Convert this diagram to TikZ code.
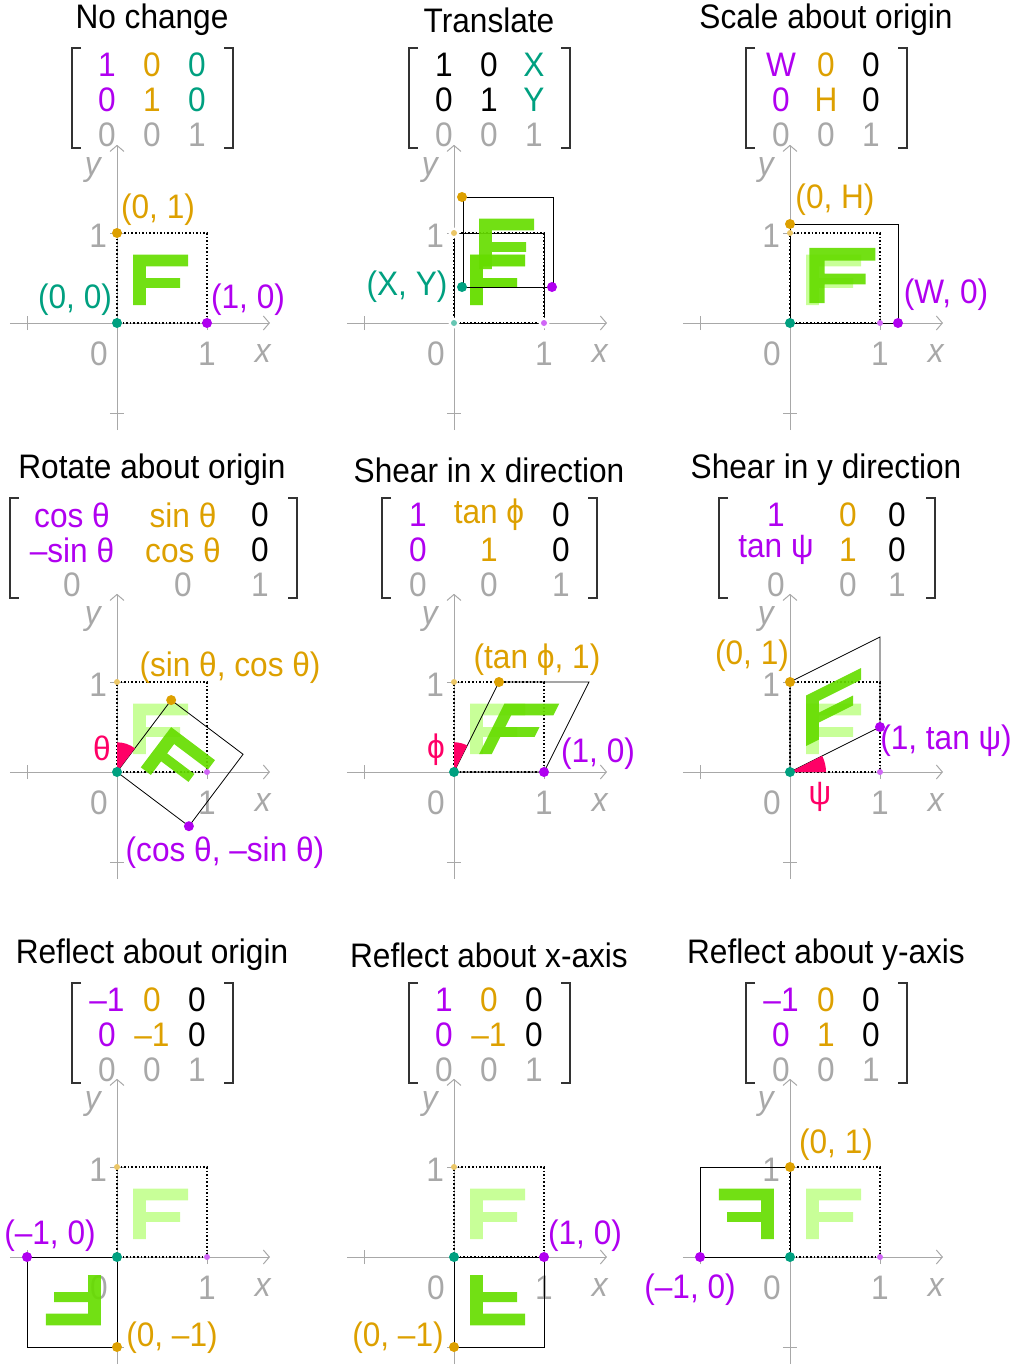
\documentclass[tikz,border=0pt]{standalone}
\usepackage{fontspec}
\setmainfont{Liberation Sans}[FakeStretch=0.93]
\usetikzlibrary{arrows.meta}
\definecolor{cP}{HTML}{B000F0}
\definecolor{cO}{HTML}{DDA000}
\definecolor{cT}{HTML}{00A080}
\definecolor{cG}{HTML}{A8A8A8}
\definecolor{cF}{HTML}{66DD00}
\definecolor{cL}{HTML}{C8FF98}
\definecolor{cK}{HTML}{FF0066}
\newcounter{nc}
\tikzset{
  txt/.style={font=\fontsize{34}{36}\selectfont,inner sep=0pt,anchor=center},
  axis/.style={cG,line width=1pt},
  brk/.style={line width=1.6pt,black!80},
}
\newcommand\ent[4]{\stepcounter{nc}\node[txt,text=#3] (m\arabic{nc}) at (#1,#2) {#4};}
\newcommand\brak[4]{\draw[brk] (#1+9,#3)--(#1,#3)--(#1,#4)--(#1+9,#4);\draw[brk] (#2-9,#3)--(#2,#3)--(#2,#4)--(#2-9,#4);}
\def\Fshape{(0.18,0.2) rectangle (0.32,0.76) (0.18,0.63) rectangle (0.79,0.76) (0.18,0.39) rectangle (0.7,0.5)}
% #1 ox #2 oy #3 a #4 b #5 c #6 d #7 light(1/0) #8 extra
\newcommand\pnl[8]{%
\begin{scope}[shift={(#1,#2)},x=90pt,y=90pt]
  \draw[axis,-{Straight Barb[length=6pt,width=14pt]}] (-1.19,0) -- (1.7,0);
  \draw[axis,-{Straight Barb[length=6pt,width=14pt]}] (0,-1.19) -- (0,1.98);
  \draw[axis] (-1,-0.08)--(-1,0.08) (1,-0.08)--(1,0.08) (-0.08,1)--(0.08,1) (-0.08,-1)--(0.08,-1);
  \node[txt,text=cG] (a0\arabic{nc}) at (-0.2,-0.34) {0};
  \node[txt,text=cG] (a1\arabic{nc}) at (1,-0.34) {1};
  \node[txt,text=cG] (ax\arabic{nc}) at (1.62,-0.34) {\itshape x};
  \node[txt,text=cG] (ay\arabic{nc}) at (-0.27,1.7) {\itshape y};
  \node[txt,text=cG] (ay1\arabic{nc}) at (-0.21,0.97) {1};
  \ifnum#7=1 \fill[cL] \Fshape; \fi
  \draw[line width=1.6pt,dotted] (0,0) rectangle (1,1);
  \begin{scope}[cm={#3,#4,#5,#6,(0,0)}]
    \fill[cF,opacity=0.92] \Fshape;
    \ifnum#7=1 \draw[line width=0.8pt] (0,0) rectangle (1,1); \fi
  \end{scope}
  #8
  \ifnum#7=1
  \fill[cT!60] (0,0) circle (3pt); \fill[cP!60] (1,0) circle (3pt); \fill[cO!60] (0,1) circle (3pt);
  \fi
  \fill[cT] (0,0) circle (5pt);
  \fill[cP] (#3,#4) circle (5pt);
  \fill[cO] (#5,#6) circle (5pt);
\end{scope}}
\begin{document}
\begin{tikzpicture}[x=1pt,y=-1pt]
\useasboundingbox (0,0) rectangle (1024,1366);
% titles
\node[txt] (t1) at (152,20) {No change};
\node[txt] (t2) at (489,20) {Translate};
\node[txt] (t3) at (826,20) {Scale about origin};
\node[txt] (t4) at (152,470) {Rotate about origin};
\node[txt] (t5) at (489,470) {Shear in x direction};
\node[txt] (t6) at (826,470) {Shear in y direction};
\node[txt] (t7) at (152,955) {Reflect about origin};
\node[txt] (t8) at (489,955) {Reflect about x-axis};
\node[txt] (t9) at (826,955) {Reflect about y-axis};
% matrices row 1
\brak{72}{233}{48}{148}
\ent{107}{65}{cP}{1}\ent{152}{65}{cO}{0}\ent{197}{65}{cT}{0}
\ent{107}{100}{cP}{0}\ent{152}{100}{cO}{1}\ent{197}{100}{cT}{0}
\ent{107}{135}{cG}{0}\ent{152}{135}{cG}{0}\ent{197}{135}{cG}{1}
\brak{409}{570}{48}{148}
\ent{444}{65}{black}{1}\ent{489}{65}{black}{0}\ent{534}{65}{cT}{X}
\ent{444}{100}{black}{0}\ent{489}{100}{black}{1}\ent{534}{100}{cT}{Y}
\ent{444}{135}{cG}{0}\ent{489}{135}{cG}{0}\ent{534}{135}{cG}{1}
\brak{746}{907}{48}{148}
\ent{781}{65}{cP}{W}\ent{826}{65}{cO}{0}\ent{871}{65}{black}{0}
\ent{781}{100}{cP}{0}\ent{826}{100}{cO}{H}\ent{871}{100}{black}{0}
\ent{781}{135}{cG}{0}\ent{826}{135}{cG}{0}\ent{871}{135}{cG}{1}
% row 2
\brak{10}{297}{498}{598}
\ent{72}{515}{cP}{cos θ}\ent{183}{515}{cO}{sin θ}\ent{260}{515}{black}{0}
\ent{72}{550}{cP}{–sin θ}\ent{183}{550}{cO}{cos θ}\ent{260}{550}{black}{0}
\ent{72}{585}{cG}{0}\ent{183}{585}{cG}{0}\ent{260}{585}{cG}{1}
\brak{382}{597}{498}{598}
\ent{418}{515}{cP}{1}\ent{489}{515}{cO}{tan ϕ}\ent{561}{515}{black}{0}
\ent{418}{550}{cP}{0}\ent{489}{550}{cO}{1}\ent{561}{550}{black}{0}
\ent{418}{585}{cG}{0}\ent{489}{585}{cG}{0}\ent{561}{585}{cG}{1}
\brak{719}{935}{498}{598}
\ent{776}{515}{cP}{1}\ent{848}{515}{cO}{0}\ent{897}{515}{black}{0}
\ent{776}{550}{cP}{tan ψ}\ent{848}{550}{cO}{1}\ent{897}{550}{black}{0}
\ent{776}{585}{cG}{0}\ent{848}{585}{cG}{0}\ent{897}{585}{cG}{1}
% row 3
\brak{72}{233}{983}{1083}
\ent{107}{1000}{cP}{–1}\ent{152}{1000}{cO}{0}\ent{197}{1000}{black}{0}
\ent{107}{1035}{cP}{0}\ent{152}{1035}{cO}{–1}\ent{197}{1035}{black}{0}
\ent{107}{1070}{cG}{0}\ent{152}{1070}{cG}{0}\ent{197}{1070}{cG}{1}
\brak{409}{570}{983}{1083}
\ent{444}{1000}{cP}{1}\ent{489}{1000}{cO}{0}\ent{534}{1000}{black}{0}
\ent{444}{1035}{cP}{0}\ent{489}{1035}{cO}{–1}\ent{534}{1035}{black}{0}
\ent{444}{1070}{cG}{0}\ent{489}{1070}{cG}{0}\ent{534}{1070}{cG}{1}
\brak{746}{907}{983}{1083}
\ent{781}{1000}{cP}{–1}\ent{826}{1000}{cO}{0}\ent{871}{1000}{black}{0}
\ent{781}{1035}{cP}{0}\ent{826}{1035}{cO}{1}\ent{871}{1035}{black}{0}
\ent{781}{1070}{cG}{0}\ent{826}{1070}{cG}{0}\ent{871}{1070}{cG}{1}
% panels
\pnl{117}{323}{1}{0}{0}{1}{0}{}
\begin{scope}[shift={(454,323)},x=90pt,y=90pt]
\end{scope}
\pnl{454}{323}{1}{0}{0}{1}{1}{%
  \draw[line width=0.8pt] (0.1,0.4) rectangle (1.1,1.4);
  \begin{scope}[shift={(0.1,0.4)}]\fill[cF,opacity=0.92] \Fshape;\end{scope}}
\pnl{790}{323}{1.2}{0}{0}{1.1}{1}{}
\pnl{117}{772}{0.799}{-0.602}{0.602}{0.799}{1}{%
  \fill[cK] (0,0) -- (90:0.33) arc[start angle=90,end angle=53,radius=0.33] -- cycle;}
\pnl{454}{772}{1}{0}{0.5}{1}{1}{%
  \fill[cK] (0,0) -- (90:0.33) arc[start angle=90,end angle=63.4,radius=0.33] -- cycle;}
\pnl{790}{772}{1}{0.5}{0}{1}{1}{%
  \fill[cK] (0,0) -- (0:0.4) arc[start angle=0,end angle=26.6,radius=0.4] -- cycle;}
\pnl{117}{1257}{-1}{0}{0}{-1}{1}{}
\pnl{454}{1257}{1}{0}{0}{-1}{1}{}
\pnl{790}{1257}{-1}{0}{0}{1}{1}{}
% translate panel: move dots (drawn separately)
\fill[cT] (462,287) circle (5pt); \fill[cP] (552,287) circle (5pt); \fill[cO] (462,197) circle (5pt);
\fill[white] (454,323) circle (5.5pt); \fill[cT!60] (454,323) circle (3pt);
\fill[white] (544,323) circle (5.5pt); \fill[cP!60] (544,323) circle (3pt);
\fill[white] (454,233) circle (5.5pt); \fill[cO!60] (454,233) circle (3pt);
% point labels
\node[txt,text=cO] (l1) at (158,210) {(0, 1)};
\node[txt,text=cT] (l2) at (75,300) {(0, 0)};
\node[txt,text=cP] (l3) at (248,300) {(1, 0)};
\node[txt,text=cT] (l4) at (407,287) {(X, Y)};
\node[txt,text=cO] (l5) at (835,200) {(0, H)};
\node[txt,text=cP] (l6) at (946,295) {(W, 0)};
\node[txt,text=cO] (l7) at (230,668) {(sin θ, cos θ)};
\node[txt,text=cK] (l8) at (102,748) {θ};
\node[txt,text=cP] (l9) at (225,853) {(cos θ, –sin θ)};
\node[txt,text=cO] (l10) at (537,660) {(tan ϕ, 1)};
\node[txt,text=cK] (l11) at (436,750) {ϕ};
\node[txt,text=cP] (l12) at (598,754) {(1, 0)};
\node[txt,text=cO] (l13) at (752,656) {(0, 1)};
\node[txt,text=cP] (l14) at (946,741) {(1, tan ψ)};
\node[txt,text=cK] (l15) at (820,797) {ψ};
\node[txt,text=cP] (l16) at (50,1236) {(–1, 0)};
\node[txt,text=cO] (l17) at (172,1338) {(0, –1)};
\node[txt,text=cP] (l18) at (585,1236) {(1, 0)};
\node[txt,text=cO] (l19) at (398,1338) {(0, –1)};
\node[txt,text=cO] (l20) at (836,1145) {(0, 1)};
\node[txt,text=cP] (l21) at (690,1290) {(–1, 0)};
\end{tikzpicture}
\end{document}
